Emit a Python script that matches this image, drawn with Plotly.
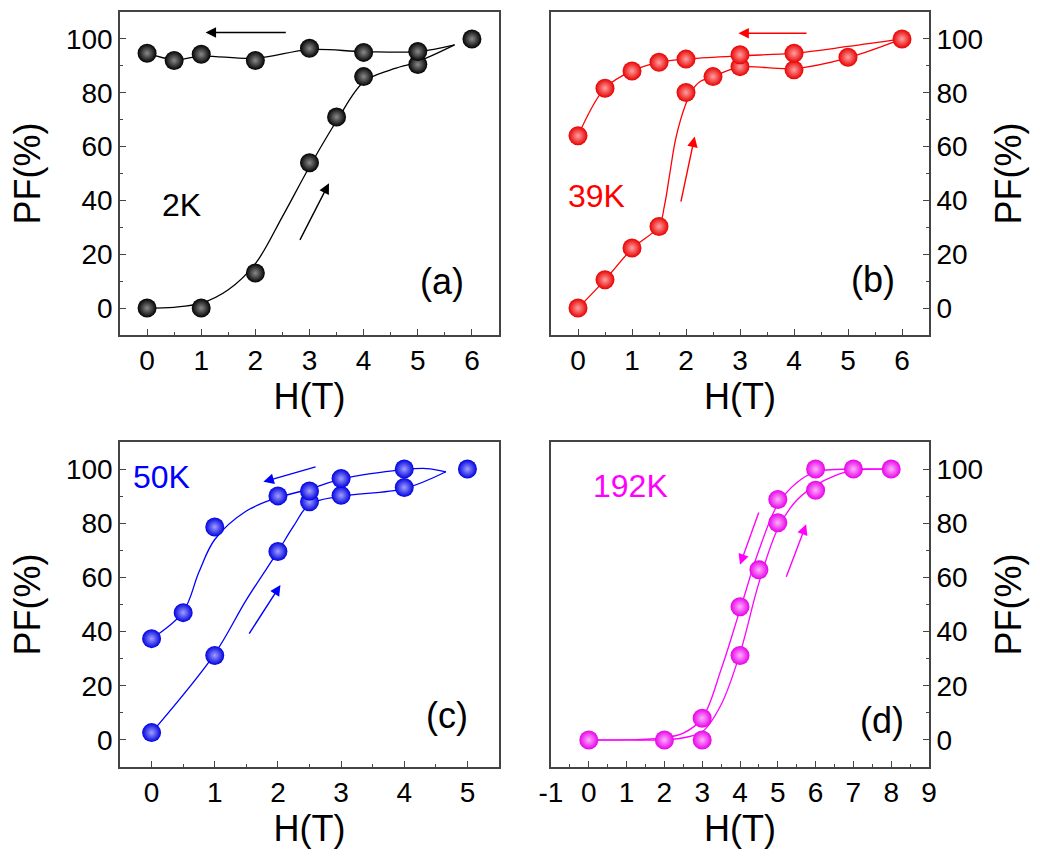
import plotly.graph_objects as go

# ---------------- data ----------------
# (a) 2K
a_up_x = [0, 1, 2, 3, 3.5, 4, 5, 6]
a_up_y = [0, 0, 13, 54, 71, 86, 90.5, 100]
a_down_x = [5, 4, 3, 2, 1, 0.5, 0]
a_down_y = [95.3, 95, 96.5, 92, 94.3, 92, 94.7]
a_fit_up_x = [0, 0.5, 1, 1.5, 2, 2.5, 3, 3.5, 4, 4.5, 5, 5.68]
a_fit_up_y = [0, 0.3, 1.8, 6.8, 16.5, 34, 52.5, 69.5, 84, 88.5, 91.6, 97.8]
a_fit_down_x = [5.68, 5, 4, 3, 2, 1, 0.5, 0]
a_fit_down_y = [97.8, 95.3, 95.3, 96, 92.8, 93.6, 92.3, 94.7]

# (b) 39K
b_up_x = [0, 0.5, 1, 1.5, 2, 2.5, 3, 4, 5, 6]
b_up_y = [0, 10.5, 22.3, 30.3, 80.1, 86, 89.7, 88.5, 93.2, 100]
b_down_x = [4, 3, 2, 1.5, 1, 0.5, 0]
b_down_y = [94.7, 94.1, 92.5, 91.3, 88.1, 81.7, 64]
b_fit_up_x = [0, 0.5, 1, 1.5, 1.6, 1.7, 1.8, 1.9, 2.0, 2.1, 2.25, 2.5, 3, 4, 5, 6]
b_fit_up_y = [0, 10.5, 22, 30.5, 38, 50, 62, 70, 76, 80.5, 84, 86, 89.5, 89, 93, 100]
b_fit_down_x = [6, 5, 4, 3, 2, 1.5, 1, 0.5, 0]
b_fit_down_y = [100, 97.2, 94.7, 93.7, 92.5, 91.3, 88.1, 81.7, 64]

# (c) 50K
c_up_x = [0, 1, 2, 2.5, 3, 4, 5]
c_up_y = [2.7, 31.2, 69.6, 87.9, 90.3, 93.2, 100]
c_down_x = [4, 3, 2.5, 2, 1, 0.5, 0]
c_down_y = [100, 96.5, 91.9, 90.1, 78.6, 47, 37.4]
c_fit_up_x = [0, 1, 1.5, 2, 2.25, 2.5, 3, 4, 4.66]
c_fit_up_y = [2.7, 31.8, 51.7, 69.6, 79, 87, 90, 92.8, 99]
c_fit_down_x = [4.66, 4.35, 4, 3, 2.5, 2, 1.5, 1, 0.75, 0.5, 0]
c_fit_down_y = [99, 100.2, 99.8, 96.3, 92.6, 89.5, 84.5, 74, 62, 47.3, 37.4]

# (d) 192K
d_up_x = [0, 2, 3, 4, 4.5, 5, 6, 7, 8]
d_up_y = [0, 0, 0, 31.2, 62.8, 80.2, 92.2, 100, 100]
d_down_x = [6, 5, 4, 3]
d_down_y = [100, 88.8, 49.2, 8]
d_fit_down_x = [0, 1, 2, 2.5, 3, 3.5, 4, 4.5, 5, 5.5, 6, 7, 8]
d_fit_down_y = [0, 0, 0.8, 2.5, 8, 26, 48, 70, 87, 95, 99, 100, 100]
d_fit_up_x = [0, 1, 2, 2.5, 3, 3.5, 4, 4.5, 5, 5.5, 6, 6.5, 7, 8]
d_fit_up_y = [0, 0, 0, 0.8, 3, 13, 32, 58, 78, 88.5, 94, 97.5, 99.5, 100]

# tick labels
x_ticks_a = [0, 1, 2, 3, 4, 5, 6]
x_ticks_c = [0, 1, 2, 3, 4, 5]
x_ticks_d = [-1, 0, 1, 2, 3, 4, 5, 6, 7, 8, 9]
x_ticktext_d = ["-1", "0", "1", "2", "3", "4", "5", "6", "7", "8", "9"]
y_ticks = [0, 20, 40, 60, 80, 100]

panels = [
    dict(name="a", temp="2K", color="#000000", center="#8a8a8a", edge="#000000",
         pts=[(a_up_x, a_up_y), (a_down_x, a_down_y)],
         fits=[(a_fit_up_x, a_fit_up_y), (a_fit_down_x, a_fit_down_y)],
         xticks=x_ticks_a, xticktext=[str(v) for v in x_ticks_a],
         temp_xy=(0.63, 38.4), lab_xy=(5.44, 9.9),
         arrows=[((2.59, 102.4), (1.08, 102.4)), ((2.81, 24.8), (3.36, 46.4))]),
    dict(name="b", temp="39K", color="#ff0000", center="#ffa0a0", edge="#e80000",
         pts=[(b_up_x, b_up_y), (b_down_x, b_down_y)],
         fits=[(b_fit_up_x, b_fit_up_y), (b_fit_down_x, b_fit_down_y)],
         xticks=x_ticks_a, xticktext=[str(v) for v in x_ticks_a],
         temp_xy=(0.34, 41.5), lab_xy=(5.47, 10.5),
         arrows=[((4.26, 102.1), (2.97, 102.1)), ((1.90, 39), (2.16, 63.7))]),
    dict(name="c", temp="50K", color="#0000ff", center="#a0a0ff", edge="#0000e0",
         pts=[(c_up_x, c_up_y), (c_down_x, c_down_y)],
         fits=[(c_fit_up_x, c_fit_up_y), (c_fit_down_x, c_fit_down_y)],
         xticks=x_ticks_c, xticktext=[str(v) for v in x_ticks_c],
         temp_xy=(0.16, 96.9), lab_xy=(4.68, 8.9),
         arrows=[((2.62, 101), (1.77, 95.3)), ((1.53, 38.7), (2.04, 57.2))]),
    dict(name="d", temp="192K", color="#ff00ff", center="#ffb0ff", edge="#e800e8",
         pts=[(d_up_x, d_up_y), (d_down_x, d_down_y)],
         fits=[(d_fit_up_x, d_fit_up_y), (d_fit_down_x, d_fit_down_y)],
         xticks=x_ticks_d, xticktext=x_ticktext_d,
         temp_xy=(1.09, 93.8), lab_xy=(7.75, 7),
         arrows=[((4.51, 84.5), (4.0, 64.7)), ((5.21, 59.7), (5.75, 79.6))]),
]

W, H = 1040, 859
L, R, T, B = 120, 929, 12, 767  # outer plot-area box in pixels
PW, PH = R - L, B - T
boxes = {  # pixel boxes: left, right, top, bottom
    "a": (120, 499, 12, 335),
    "b": (551, 929, 12, 335),
    "c": (120, 499, 442, 767),
    "d": (551, 929, 442, 767),
}
xranges = {"a": [-0.5, 6.5], "b": [-0.5, 6.5], "c": [-0.5, 5.5], "d": [-1, 9]}

FONT = "Liberation Sans, Arial, sans-serif"
fig = go.Figure()
annotations = []
layout = dict(
    width=W, height=H, margin=dict(l=L, r=W - R, t=T, b=H - B, autoexpand=False),
    paper_bgcolor="white", plot_bgcolor="white", showlegend=False,
    font=dict(family=FONT, color="black"),
)

for i, p in enumerate(panels):
    k = "" if i == 0 else str(i + 1)
    xa, ya = "x" + k, "y" + k
    l, r, t, b = boxes[p["name"]]
    right = p["name"] in ("b", "d")
    for fx, fy in p["fits"]:
        fig.add_trace(go.Scatter(x=fx, y=fy, mode="lines", xaxis=xa, yaxis=ya,
                                 line=dict(color=p["color"], width=1.3, shape="spline", smoothing=1.0),
                                 hoverinfo="skip"))
    for px, py in p["pts"]:
        fig.add_trace(go.Scatter(x=px, y=py, mode="markers", xaxis=xa, yaxis=ya,
                                 marker=dict(size=19, color=p["edge"],
                                             gradient=dict(type="radial", color=p["center"]),
                                             line=dict(width=0))))
    axis_common = dict(showgrid=False, zeroline=False, showline=True, mirror=True,
                       linecolor="#444", linewidth=1.6, ticks="inside", ticklen=6,
                       tickwidth=1.3, tickcolor="#444", automargin=False,
                       tickfont=dict(size=28, family=FONT, color="black"))
    layout["xaxis" + k] = dict(axis_common, domain=[(l - L) / PW, (r - L) / PW],
                               range=xranges[p["name"]], anchor=ya,
                               tickmode="array", tickvals=p["xticks"], ticktext=p["xticktext"],
                               minor=dict(ticks="inside", ticklen=3, dtick=0.5, tick0=0,
                                          tickcolor="#444", tickwidth=1.2),
                               title=dict(text="H(T)", font=dict(size=36, family=FONT), standoff=0))
    layout["yaxis" + k] = dict(axis_common, domain=[1 - (b - T) / PH, 1 - (t - T) / PH],
                               range=[-10, 110], anchor=xa,
                               tickmode="array", tickvals=y_ticks,
                               side="right" if right else "left",
                               minor=dict(ticks="inside", ticklen=3, dtick=10, tick0=0,
                                          tickcolor="#444", tickwidth=1.2),
                               title=dict(text="PF(%)", font=dict(size=36, family=FONT), standoff=14))
    annotations.append(dict(x=p["temp_xy"][0], y=p["temp_xy"][1], xref=xa, yref=ya,
                            text=p["temp"], showarrow=False,
                            font=dict(size=32, color=p["color"], family=FONT)))
    annotations.append(dict(x=p["lab_xy"][0], y=p["lab_xy"][1], xref=xa, yref=ya,
                            text="(" + p["name"] + ")", showarrow=False,
                            font=dict(size=36, color="black", family=FONT)))
    for (x0, y0), (x1, y1) in p["arrows"]:
        annotations.append(dict(x=x1, y=y1, ax=x0, ay=y0, xref=xa, yref=ya,
                                axref=xa, ayref=ya, text="", showarrow=True,
                                arrowhead=2, arrowsize=1.5, arrowwidth=1.4,
                                arrowcolor=p["color"]))

layout["annotations"] = annotations
fig.update_layout(**layout)
fig.write_html("out.html")
